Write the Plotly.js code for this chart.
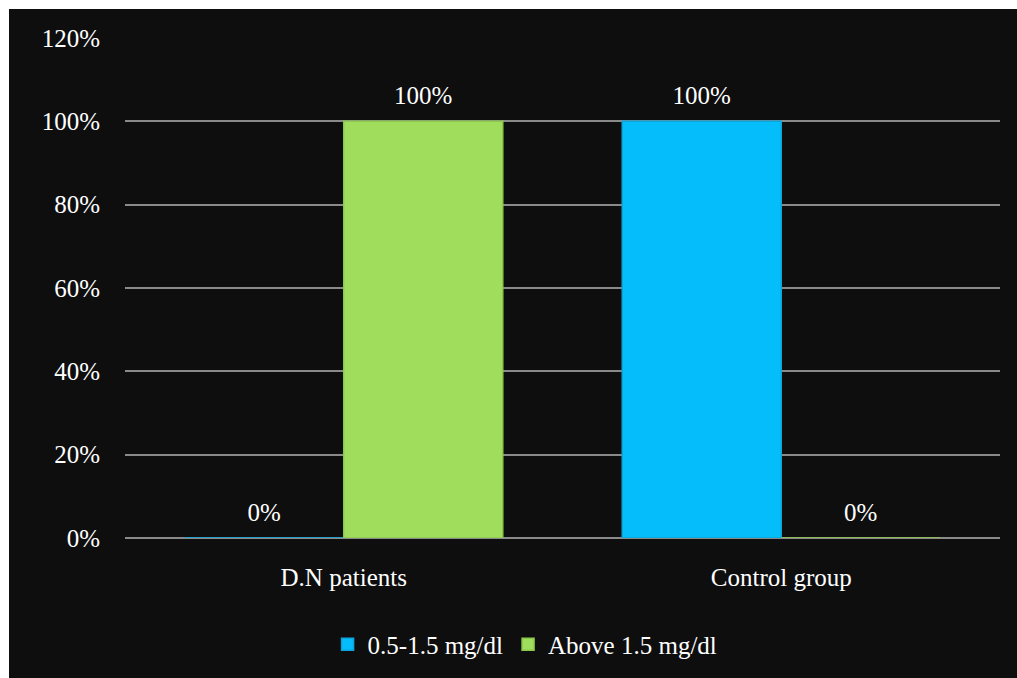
<!DOCTYPE html>
<html>
<head>
<meta charset="utf-8">
<script src="https://cdn.plot.ly/plotly-3.0.1.min.js"></script>
<style>
  html, body { margin: 0; padding: 0; background: #ffffff; }
  #chart { position: absolute; left: 9px; top: 9px; width: 1008px; height: 669px; }
</style>
</head>
<body>
<div id="chart"></div>
<script>
// Serum creatinine distribution by study group
const groups = ['D.N patients', 'Control group'];
const normalRange = [0, 1];     // 0.5-1.5 mg/dl
const aboveRange = [1, 0];      // Above 1.5 mg/dl
const seriesNames = ['0.5-1.5 mg/dl', 'Above 1.5 mg/dl'];
const yTicks = [0, 0.2, 0.4, 0.6, 0.8, 1.0, 1.2];
const yTickLabels = ['0%', '20%', '40%', '60%', '80%', '100%', '120%'];

const serif = "'Liberation Serif', 'Times New Roman', serif";
const pct = v => Math.round(v * 100) + '%';
const labelFont = { family: serif, size: 25, color: '#ffffff' };

function barTrace(name, values, color, edge) {
  return {
    type: 'bar', name: name, x: groups, y: values,
    offsetgroup: name, alignmentgroup: 'g',
    marker: { color: color, line: { color: edge, width: 1.5 } },
    hoverinfo: 'skip'
  };
}

// value labels sit above each bar, grouped the same way as the bars
function labelTrace(name, values) {
  return {
    type: 'scatter', mode: 'markers+text', x: groups, y: values,
    offsetgroup: name, alignmentgroup: 'g',
    text: values.map(pct), textposition: 'top center', textfont: labelFont,
    marker: { size: 16, opacity: 0 }, cliponaxis: false,
    showlegend: false, hoverinfo: 'skip'
  };
}

const traces = [
  barTrace(seriesNames[0], normalRange, '#05bdfb', '#0aa6dc'),
  barTrace(seriesNames[1], aboveRange, '#a0dd5c', '#8cc84a'),
  labelTrace(seriesNames[0], normalRange),
  labelTrace(seriesNames[1], aboveRange)
];

const layout = {
  width: 1008, height: 669,
  paper_bgcolor: '#0e0e0e', plot_bgcolor: '#0e0e0e',
  margin: { l: 116, r: 17, t: 29, b: 140 },
  barmode: 'group', bargap: 0.273, bargroupgap: 0,
  scattermode: 'group', scattergap: 0.273,
  font: labelFont,
  showlegend: true,
  legend: {
    orientation: 'h', xref: 'container', yref: 'container',
    x: 0.512, xanchor: 'center', y: 0.05, yanchor: 'middle',
    font: labelFont, itemwidth: 30, tracegroupgap: 0
  },
  xaxis: {
    type: 'category', showgrid: false, showline: false, zeroline: false,
    ticks: '', ticklabelstandoff: 22, tickfont: labelFont
  },
  yaxis: {
    range: [0, 1.2], tickvals: yTicks, ticktext: yTickLabels,
    showgrid: true, gridcolor: '#8a8a8a', gridwidth: 2,
    zeroline: true, zerolinecolor: '#8a8a8a', zerolinewidth: 2,
    showline: false, ticks: '', ticklabelstandoff: 24, tickfont: labelFont
  }
};

Plotly.newPlot('chart', traces, layout, { displayModeBar: false, staticPlot: true });
</script>
</body>
</html>
